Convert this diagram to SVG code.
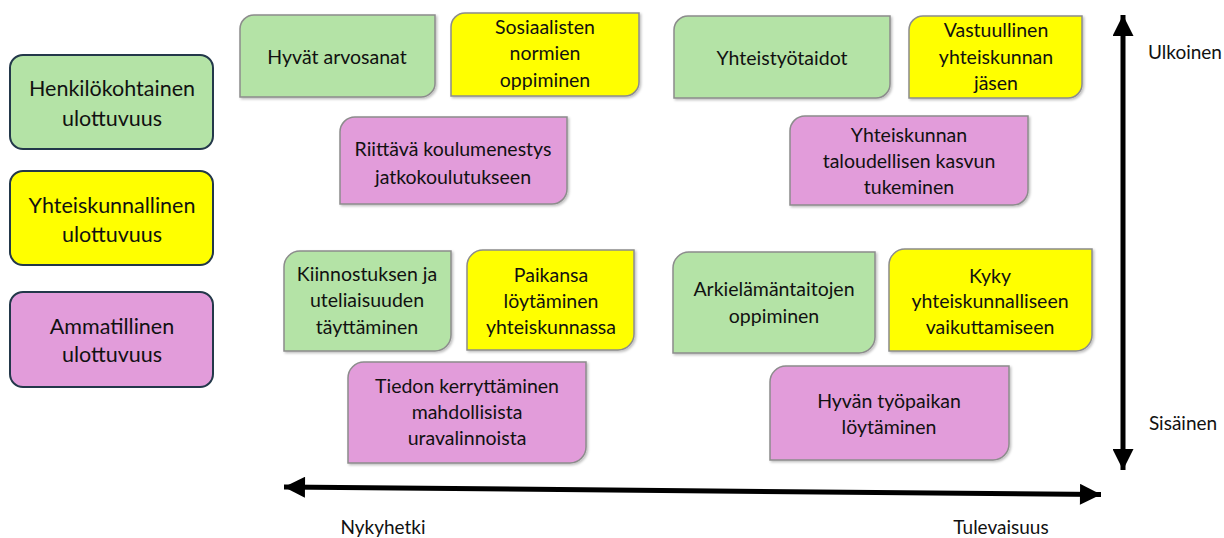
<svg xmlns="http://www.w3.org/2000/svg" width="1224" height="538" viewBox="0 0 1224 538">
<style>
text{font-family:Lato,"Liberation Sans",sans-serif;font-size:19.5px;fill:#111;text-anchor:middle}
.ax{font-size:19px}
.lg{font-size:21.5px}
.g{fill:#B4E3A6}
.y{fill:#FFFF00}
.p{fill:#E29CDA}
.box{stroke:#8C8C8C;stroke-width:1.5;filter:url(#sh)}
.leg{stroke:#23384A;stroke-width:2}
.arrow{stroke:#000;stroke-width:5;fill:none}
</style>
<defs>
<filter id="sh" x="-10%" y="-10%" width="130%" height="130%">
<feDropShadow dx="1.5" dy="1.5" stdDeviation="1.2" flood-color="#000" flood-opacity="0.25"/>
</filter>
<marker id="ah" viewBox="0 0 10 10" refX="10" refY="5" markerWidth="4.4" markerHeight="4.2" orient="auto-start-reverse" markerUnits="strokeWidth">
<path d="M0,0 L10,5 L0,10 Z" fill="#000"/>
</marker>
</defs>

<g id="legend-henkilokohtainen">
<rect class="leg g" x="10" y="55" width="203" height="94" rx="13"/>
<text class="lg" x="112" y="96">Henkilökohtainen</text>
<text class="lg" x="112" y="126">ulottuvuus</text>
</g>
<g id="legend-yhteiskunnallinen">
<rect class="leg y" x="10" y="171" width="203" height="94" rx="13"/>
<text class="lg" x="112" y="213">Yhteiskunnallinen</text>
<text class="lg" x="112" y="242">ulottuvuus</text>
</g>
<g id="legend-ammatillinen">
<rect class="leg p" x="10" y="292" width="203" height="95" rx="13"/>
<text class="lg" x="112" y="334">Ammatillinen</text>
<text class="lg" x="112" y="362">ulottuvuus</text>
</g>

<g id="n1">
<path class="box g" d="M254,15 H435 V82 A14,14 0 0 1 421,97 H240 V29 A14,14 0 0 1 254,15 Z"/>
<text x="337" y="64">Hyvät arvosanat</text>
</g>
<g id="n2">
<path class="box y" d="M465,13 H639 V82 A14,14 0 0 1 625,96 H451 V27 A14,14 0 0 1 465,13 Z"/>
<text x="545" y="34">Sosiaalisten</text>
<text x="545" y="60">normien</text>
<text x="545" y="87">oppiminen</text>
</g>
<g id="n3">
<path class="box g" d="M688,16 H890 V84 A14,14 0 0 1 876,98 H674 V30 A14,14 0 0 1 688,16 Z"/>
<text x="782" y="65">Yhteistyötaidot</text>
</g>
<g id="n4">
<path class="box y" d="M923,16 H1082 V84 A14,14 0 0 1 1068,98 H909 V30 A14,14 0 0 1 923,16 Z"/>
<text x="996" y="37">Vastuullinen</text>
<text x="996" y="64">yhteiskunnan</text>
<text x="996" y="90">jäsen</text>
</g>
<g id="n5">
<path class="box p" d="M355,117 H567 V189 A15,15 0 0 1 552,204 H340 V132 A15,15 0 0 1 355,117 Z"/>
<text x="453" y="156">Riittävä koulumenestys</text>
<text x="453" y="184">jatkokoulutukseen</text>
</g>
<g id="n6">
<path class="box p" d="M805,116 H1028 V190 A15,15 0 0 1 1013,205 H790 V131 A15,15 0 0 1 805,116 Z"/>
<text x="909" y="142">Yhteiskunnan</text>
<text x="909" y="168">taloudellisen kasvun</text>
<text x="909" y="194">tukeminen</text>
</g>
<g id="n7">
<path class="box g" d="M300,251 H451 V335 A16,16 0 0 1 435,351 H284 V267 A16,16 0 0 1 300,251 Z"/>
<text x="367" y="281">Kiinnostuksen ja</text>
<text x="367" y="307">uteliaisuuden</text>
<text x="367" y="334">täyttäminen</text>
</g>
<g id="n8">
<path class="box y" d="M483,250 H634 V334 A16,16 0 0 1 618,350 H467 V266 A16,16 0 0 1 483,250 Z"/>
<text x="551" y="282">Paikansa</text>
<text x="551" y="308">löytäminen</text>
<text x="551" y="334">yhteiskunnassa</text>
</g>
<g id="n9">
<path class="box g" d="M689,252 H875 V337 A16,16 0 0 1 859,353 H673 V268 A16,16 0 0 1 689,252 Z"/>
<text x="774" y="296">Arkielämäntaitojen</text>
<text x="774" y="323">oppiminen</text>
</g>
<g id="n10">
<path class="box y" d="M905,249 H1092 V335 A16,16 0 0 1 1076,351 H889 V265 A16,16 0 0 1 905,249 Z"/>
<text x="990" y="283">Kyky</text>
<text x="990" y="308">yhteiskunnalliseen</text>
<text x="990" y="334">vaikuttamiseen</text>
</g>
<g id="n11">
<path class="box p" d="M364,362 H586 V447 A16,16 0 0 1 570,463 H348 V378 A16,16 0 0 1 364,362 Z"/>
<text x="467" y="393">Tiedon kerryttäminen</text>
<text x="467" y="419">mahdollisista</text>
<text x="467" y="445">uravalinnoista</text>
</g>
<g id="n12">
<path class="box p" d="M786,366 H1009 V444 A16,16 0 0 1 993,460 H770 V382 A16,16 0 0 1 786,366 Z"/>
<text x="889" y="408">Hyvän työpaikan</text>
<text x="889" y="434">löytäminen</text>
</g>

<g id="connectors">
<line class="arrow" x1="1123" y1="15" x2="1123" y2="470" marker-start="url(#ah)" marker-end="url(#ah)"/>
<line class="arrow" x1="284" y1="487" x2="1101" y2="494.5" marker-start="url(#ah)" marker-end="url(#ah)"/>
</g>

<g id="axis-labels">
<text class="ax" x="1185" y="59">Ulkoinen</text>
<text class="ax" x="1183" y="430">Sisäinen</text>
<text class="ax" x="383" y="534">Nykyhetki</text>
<text class="ax" x="1001" y="534">Tulevaisuus</text>
</g>
</svg>
